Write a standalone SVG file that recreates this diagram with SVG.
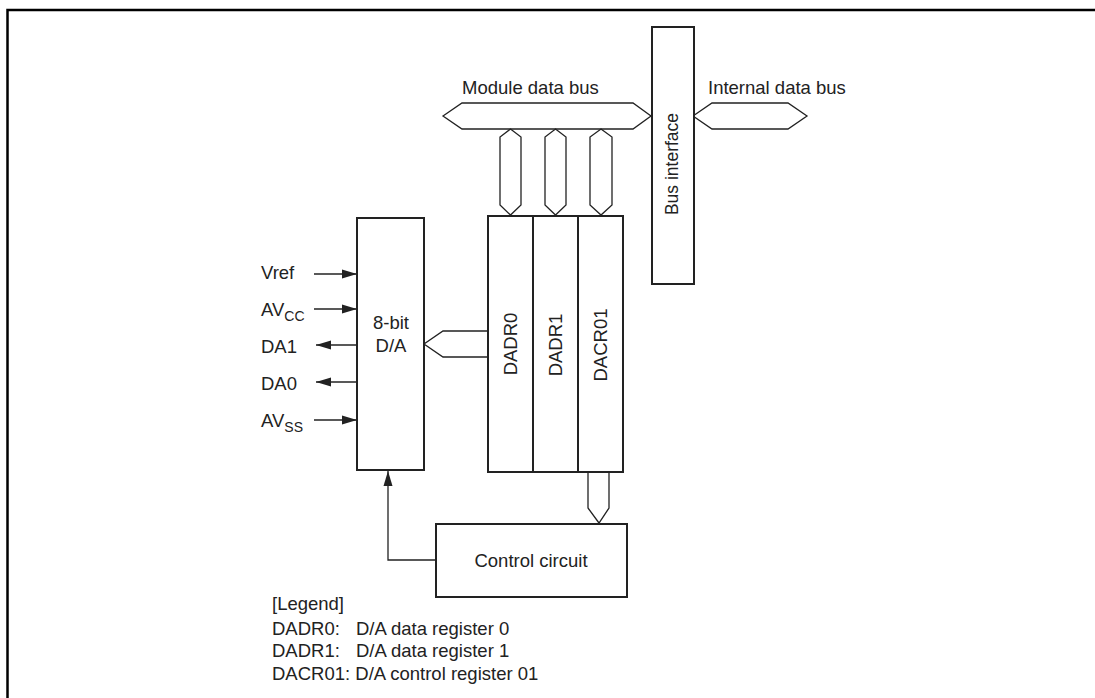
<svg xmlns="http://www.w3.org/2000/svg" width="1095" height="698" viewBox="0 0 1095 698">
<style>
text{font-family:"Liberation Sans",Arial,sans-serif;font-size:18.5px;fill:#222}
.sub{font-size:14px}
.vt{font-size:17.5px}
.box{fill:#fff;stroke:#222;stroke-width:2}
.bus{fill:#fff;stroke:#222;stroke-width:1.3;stroke-linejoin:miter}
.wire{fill:none;stroke:#222;stroke-width:1.3}
.frame{fill:none;stroke:#000;stroke-width:2.5}
</style>
<defs>
<marker id="ah" markerUnits="userSpaceOnUse" markerWidth="15" markerHeight="10" refX="15" refY="5" orient="auto">
<path d="M0,0.5 L15,5 L0,9.5 z" fill="#222"/>
</marker>
</defs>
<polyline class="frame" points="7.5,698 7.5,10 1095,10"/>

<g id="module-data-bus"><polygon class="bus" points="443,116 462,103 633,103 651,116 633,129 462,129"/><text x="462" y="94">Module data bus</text></g>
<g id="internal-data-bus"><polygon class="bus" points="693,116 712,103 788,103 807,116 788,129 712,129"/><text x="708" y="94">Internal data bus</text></g>
<g id="bus-interface"><rect class="box" x="652" y="27" width="42" height="257"/><text class="vt" transform="translate(678,164) rotate(-90)" text-anchor="middle">Bus interface</text></g>

<g id="connectors">
<polygon class="bus" points="510.5,129 521,137 521,205 510.5,215 500,205 500,137"/>
<polygon class="bus" points="555.5,129 566,137 566,205 555.5,215 545,205 545,137"/>
<polygon class="bus" points="601,129 612,137 612,205 601,215 590,205 590,137"/>
<polyline class="bus" points="488,331 443,331 424,344 443,357 488,357"/>
<polygon class="bus" points="588,472 609,472 609,508 599,523 588,508"/>
<line class="wire" x1="314" y1="274" x2="357" y2="274" marker-end="url(#ah)"/>
<line class="wire" x1="314" y1="309" x2="357" y2="309" marker-end="url(#ah)"/>
<line class="wire" x1="357" y1="345" x2="316" y2="345" marker-end="url(#ah)"/>
<line class="wire" x1="357" y1="382" x2="316" y2="382" marker-end="url(#ah)"/>
<line class="wire" x1="314" y1="420" x2="357" y2="420" marker-end="url(#ah)"/>
<polyline class="wire" points="436,560 388,560 388,471" marker-end="url(#ah)"/>
</g>

<g id="da-converter"><rect class="box" x="357" y="218" width="67" height="252"/><text x="391" y="329" text-anchor="middle">8-bit</text><text x="391" y="352" text-anchor="middle">D/A</text></g>

<g id="dadr0"><rect class="box" x="488" y="216" width="45" height="256"/><text transform="translate(517,344) rotate(-90)" text-anchor="middle">DADR0</text></g>
<g id="dadr1"><rect class="box" x="533" y="216" width="45" height="256"/><text transform="translate(562,345) rotate(-90)" text-anchor="middle">DADR1</text></g>
<g id="dacr01"><rect class="box" x="578" y="216" width="45" height="256"/><text transform="translate(607,345) rotate(-90)" text-anchor="middle">DACR01</text></g>

<g id="control-circuit"><rect class="box" x="436" y="524" width="191" height="73"/><text x="531" y="567" text-anchor="middle">Control circuit</text></g>

<g id="pin-labels">
<text x="261" y="279">Vref</text>
<text x="261" y="316">AV<tspan class="sub" dy="5">CC</tspan></text>
<text x="261" y="353">DA1</text>
<text x="261" y="390">DA0</text>
<text x="261" y="427">AV<tspan class="sub" dy="5">SS</tspan></text>
</g>

<g id="legend">
<text x="272" y="610">[Legend]</text>
<text x="272" y="635">DADR0:</text><text x="356" y="635">D/A data register 0</text>
<text x="272" y="657">DADR1:</text><text x="356" y="657">D/A data register 1</text>
<text x="272" y="680">DACR01: D/A control register 01</text>
</g>
</svg>
